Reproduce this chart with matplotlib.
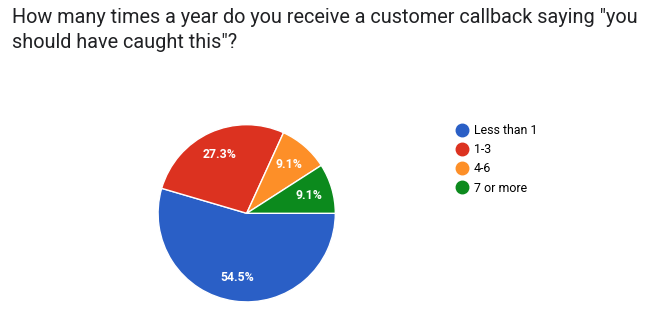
import matplotlib.pyplot as plt
from matplotlib.lines import Line2D

labels = ["Less than 1", "1-3", "4-6", "7 or more"]
counts = [6, 3, 1, 1]
colors = ["#2a5fc6", "#dc3220", "#fd8f28", "#0c8a1d"]
title = 'How many times a year do you receive a customer callback saying "you\nshould have caught this"?'

W, H = 653, 330
fig = plt.figure(figsize=(W / 100, H / 100), dpi=100)
plt.rcParams["font.family"] = ["Roboto", "DejaVu Sans"]

cx, cy, r = 246.7, 213.3, 89.5
ax = fig.add_axes([(cx - r) / W, (H - cy - r) / H, 2 * r / W, 2 * r / H])
wedges, texts, autotexts = ax.pie(
    counts,
    colors=colors,
    startangle=0,
    counterclock=False,
    autopct="%.1f%%",
    pctdistance=0.73,
    wedgeprops={"edgecolor": "white", "linewidth": 1},
    textprops={"color": "white", "fontsize": 8.8, "fontweight": "bold"},
)
ax.set_xlim(-1.01, 1.01)
ax.set_ylim(-1.01, 1.01)

fig.text(12 / W, 1 - 8 / H, title, va="top", ha="left", fontsize=14.3,
         color="#202124", linespacing=1.42)

handles = [Line2D([], [], marker="o", linestyle="none", markersize=9,
                  markerfacecolor=c, markeredgecolor=c) for c in colors]
fig.legend(handles, labels, loc="upper left", bbox_to_anchor=(455 / W, 1 - 124 / H),
           frameon=False, fontsize=8.9, handletextpad=0.3, labelspacing=0.5,
           handlelength=1.2, borderpad=0, borderaxespad=0)

fig.savefig("out.png", dpi=100)
